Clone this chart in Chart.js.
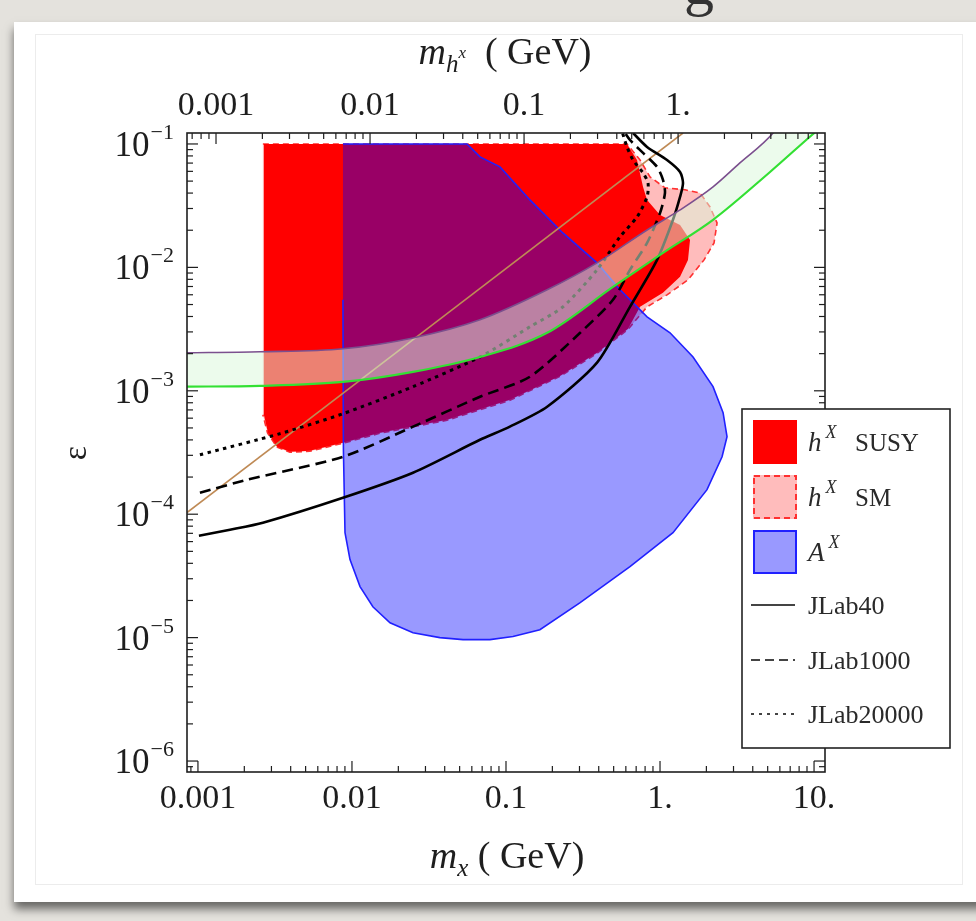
<!DOCTYPE html>
<html>
<head>
<meta charset="utf-8">
<script src="https://cdn.jsdelivr.net/npm/chart.js@4.4.0/dist/chart.umd.min.js"></script>
<style>
  html, body { margin: 0; padding: 0; }
  body { width: 976px; height: 921px; background: #e4e2dd; position: relative; overflow: hidden; font-family: "Liberation Serif", serif; }
  #cut { position: absolute; left: 684px; top: -46px; font-size: 60px; line-height: 60px; color: #333; }
  #card { position: absolute; left: 14px; top: 22px; width: 975px; height: 880px; background: #fff; box-shadow: 0 7px 9px rgba(0,0,0,0.55); }
  #inner { position: absolute; left: 35px; top: 34px; width: 928px; height: 851px; border: 1px solid #ececec; box-sizing: border-box; }
  canvas { position: absolute; left: 0; top: 0; }
</style>
</head>
<body>
<div id="cut">g</div>
<div id="card"></div>
<div id="inner"></div>
<canvas id="chart" width="976" height="921"></canvas>
<script>
// axis ranges (frame is padded a bit past the decades)
const xMin = 0.000849, xMax = 11.78;
const yMin = 8.15e-7, yMax = 0.1227;
const hShift = 1.31; // top axis: m_h = m_x / hShift

const xTicks = [0.001, 0.01, 0.1, 1, 10];
const xLabels = ['0.001', '0.01', '0.1', '1.', '10.'];
const topTicks = [0.001, 0.01, 0.1, 1];
const topLabels = ['0.001', '0.01', '0.1', '1.'];
const yTicks = [1e-1, 1e-2, 1e-3, 1e-4, 1e-5, 1e-6];
const yExps = ['\u22121', '\u22122', '\u22123', '\u22124', '\u22125', '\u22126'];

// h^X SUSY region
const susyX = [0.00268, 0.610, 0.709, 0.776, 0.824, 1.0, 1.349, 1.566, 1.519, 1.349, 1.045, 0.742, 0.620, 0.390, 0.224, 0.106, 0.0414, 0.0152, 0.00874, 0.00533, 0.00395, 0.00326, 0.00285, 0.00268];
const susyY = [0.1, 0.1, 0.0741, 0.0449, 0.0352, 0.0266, 0.0221, 0.0167, 0.0115, 0.00838, 0.00622, 0.00479, 0.00318, 0.00203, 0.00132, 0.000845, 0.000582, 0.000457, 0.000379, 0.000327, 0.000321, 0.000352, 0.000457, 0.00064];

// h^X SM region
const smX = [0.00264, 0.610, 0.742, 0.861, 1.077, 1.453, 1.819, 2.112, 2.346, 2.243, 1.931, 1.519, 1.11, 0.824, 0.620, 0.390, 0.224, 0.106, 0.0414, 0.0152, 0.00874, 0.00533, 0.00395, 0.00326, 0.00283, 0.00264];
const smY = [0.1, 0.1, 0.0741, 0.0541, 0.0441, 0.0425, 0.0401, 0.0309, 0.0229, 0.0158, 0.0115, 0.00792, 0.00599, 0.00479, 0.00315, 0.00201, 0.00131, 0.000838, 0.000577, 0.000453, 0.000376, 0.000324, 0.000318, 0.000349, 0.000455, 0.00064];

// A^X region
const aX = [0.00874, 0.0558, 0.0678, 0.0914, 0.143, 0.234, 0.390, 0.550, 0.824, 1.161, 1.638, 2.209, 2.567, 2.723, 2.528, 2.019, 1.214, 0.638, 0.303, 0.166, 0.111, 0.0787, 0.0526, 0.0372, 0.0249, 0.01766, 0.01367, 0.01128, 0.00971, 0.00901, 0.00880, 0.00874];
const aY = [0.1, 0.1, 0.0785, 0.0652, 0.0352, 0.0190, 0.01087, 0.00658, 0.00397, 0.00295, 0.00188, 0.00108, 0.000664, 0.000425, 0.000292, 0.000158, 0.0000708, 0.0000376, 0.0000192, 0.0000116, 0.0000102, 0.00000964, 0.00000964, 0.00001, 0.00001096, 0.0000132, 0.0000178, 0.0000259, 0.0000429, 0.0000708, 0.000333, 0.00546];

// band: upper (purple) and lower (green) edges
const bandUpX = [0.00080, 0.00253, 0.00874, 0.0249, 0.0678, 0.185, 0.390, 0.824, 1.349, 2.209, 3.30, 5.42, 11.79];
const bandUpY = [0.00203, 0.00207, 0.00219, 0.00268, 0.00376, 0.00658, 0.01087, 0.0201, 0.0292, 0.0449, 0.0702, 0.1227, 0.5];
const bandLoX = [0.00080, 0.00253, 0.00874, 0.0249, 0.0678, 0.185, 0.495, 1.045, 2.209, 5.18, 9.86, 11.79];
const bandLoY = [0.00108, 0.001096, 0.00118, 0.001425, 0.00188, 0.00295, 0.00695, 0.0131, 0.0243, 0.0593, 0.1205, 0.145];

// brown line
const brownX = [0.000849, 1.41];
const brownY = [0.000103, 0.1227];

// JLab reach curves
const jlab40X = [0.001015, 0.001614, 0.00264, 0.00874, 0.0249, 0.0678, 0.106, 0.185, 0.390, 0.638, 0.957, 1.214, 1.349, 1.41, 1.349, 1.11, 0.824, 0.668];
const jlab40Y = [0.000067, 0.0000748, 0.0000853, 0.000136, 0.000217, 0.000401, 0.000512, 0.000742, 0.00169, 0.00479, 0.0115, 0.0243, 0.0372, 0.0483, 0.0593, 0.0741, 0.0946, 0.1227];
const jlab1000X = [0.00103, 0.00208, 0.00874, 0.0249, 0.0678, 0.143, 0.303, 0.495, 0.638, 0.824, 1.0, 1.077, 1.045, 0.957, 0.776, 0.638, 0.593];
const jlab1000Y = [0.000149, 0.00019, 0.000292, 0.000512, 0.000894, 0.0013, 0.00295, 0.00546, 0.00955, 0.0158, 0.0276, 0.0401, 0.0512, 0.0652, 0.0846, 0.1077, 0.1227];
const jlab20000X = [0.00103, 0.0034, 0.00874, 0.0249, 0.0678, 0.143, 0.234, 0.390, 0.550, 0.709, 0.824, 0.836, 0.776, 0.668, 0.610, 0.571];
const jlab20000Y = [0.000303, 0.000449, 0.000652, 0.00108, 0.00188, 0.0033, 0.00479, 0.00955, 0.0177, 0.0256, 0.0372, 0.0483, 0.0582, 0.0741, 0.0946, 0.1227];

function pts(xs, ys) { return xs.map((x, i) => ({ x: x, y: ys[i] })); }

const SERIF = '"Liberation Serif", "Times New Roman", serif';
const INK = '#1e1e1e';

function region(label, xs, ys, fill, border, width, dash, order) {
  return {
    label: label, data: pts(xs, ys), showLine: true, pointRadius: 0, tension: 0,
    fill: 'shape', backgroundColor: fill, borderColor: border || 'rgba(0,0,0,0)',
    borderWidth: width, borderDash: dash || [], order: order
  };
}
function curve(label, xs, ys, color, width, dash, order) {
  return {
    label: label, data: pts(xs, ys), showLine: true, pointRadius: 0, tension: 0.25,
    fill: false, borderColor: color, borderWidth: width, borderDash: dash || [], order: order
  };
}

const dsSusy = region('h^X SUSY', susyX, susyY, '#ff0000', null, 0, null, 7);
const dsSm = region('h^X SM', smX, smY, '#ffbcbc', '#ff3030', 1.6, [6, 4], 8);
const dsA = region('A^X', aX, aY, 'rgba(0,0,255,0.4)', '#2020ff', 1.6, null, 6);
const dsJ40 = curve('JLab40', jlab40X, jlab40Y, '#000', 2.6, null, 4);
const dsJ1000 = curve('JLab1000', jlab1000X, jlab1000Y, '#000', 2.6, [11, 6], 4);
const dsJ20000 = curve('JLab20000', jlab20000X, jlab20000Y, '#000', 3, [3.5, 4.5], 4);
const dsBrown = curve('brown', brownX, brownY, '#bf8a55', 1.6, null, 5);
const dsLo = curve('band bottom', bandLoX, bandLoY, '#33e033', 2.2, null, 0);
dsLo.cubicInterpolationMode = 'monotone';
const dsUp = curve('band top', bandUpX, bandUpY, '#7b4f8e', 1.6, null, 1);
dsUp.cubicInterpolationMode = 'monotone';
dsUp.fill = '-1';
dsUp.backgroundColor = 'rgba(218,247,218,0.52)';

function logTicks(min, max) {
  const out = [];
  for (let e = Math.floor(Math.log10(min)); e <= Math.ceil(Math.log10(max)); e++) {
    for (let m = 1; m < 10; m++) {
      const v = m * Math.pow(10, e);
      if (v >= min && v <= max) out.push({ v: v, major: m === 1 });
    }
  }
  return out;
}

function seg(ctx, x1, y1, x2, y2) {
  ctx.beginPath(); ctx.moveTo(x1, y1); ctx.lineTo(x2, y2); ctx.stroke();
}

// frame with inward ticks
const framePlugin = {
  id: 'frame',
  afterDatasetsDraw(chart) {
    const { ctx, chartArea: a, scales } = chart;
    ctx.save();
    ctx.strokeStyle = INK;
    ctx.lineWidth = 1.2;
    logTicks(scales.x.min, scales.x.max).forEach(t => {
      const p = scales.x.getPixelForValue(t.v);
      seg(ctx, p, a.bottom, p, a.bottom - (t.major ? 11 : 6));
    });
    logTicks(scales.x2.min, scales.x2.max).forEach(t => {
      const p = scales.x2.getPixelForValue(t.v);
      seg(ctx, p, a.top, p, a.top + (t.major ? 11 : 6));
    });
    logTicks(scales.y.min, scales.y.max).forEach(t => {
      const p = scales.y.getPixelForValue(t.v);
      const len = t.major ? 11 : 6;
      seg(ctx, a.left, p, a.left + len, p);
      seg(ctx, a.right, p, a.right - len, p);
    });
    ctx.lineWidth = 1.6;
    ctx.strokeRect(a.left, a.top, a.right - a.left, a.bottom - a.top);
    ctx.restore();
  },
  afterDraw(chart) {
    const { ctx, chartArea: a, scales } = chart;
    ctx.save();
    ctx.fillStyle = INK;
    ctx.textBaseline = 'alphabetic';

    // y tick labels 10^-n
    yTicks.forEach((v, i) => {
      const p = scales.y.getPixelForValue(v);
      ctx.font = '22px ' + SERIF;
      const wExp = ctx.measureText(yExps[i]).width;
      const right = a.left - 13;
      ctx.textAlign = 'left';
      ctx.fillText(yExps[i], right - wExp, p - 5);
      ctx.font = '35px ' + SERIF;
      ctx.textAlign = 'right';
      ctx.fillText('10', right - wExp - 1, p + 12);
    });

    // axis titles
    drawParts(ctx, 507, 868, [
      { t: 'm', f: 'italic 38px', dy: 0 },
      { t: 'x', f: 'italic 25px', dy: 8 },
      { t: ' ( GeV)', f: '38px', dy: 0 }
    ]);
    drawParts(ctx, 505, 64, [
      { t: 'm', f: 'italic 38px', dy: 0 },
      { t: 'h', f: 'italic 25px', dy: 8 },
      { t: 'x', f: 'italic 17px', dy: -6 },
      { t: '  ( GeV)', f: '38px', dy: 0 }
    ]);
    ctx.save();
    ctx.translate(86, 453);
    ctx.rotate(-Math.PI / 2);
    ctx.font = '34px ' + SERIF;
    ctx.textAlign = 'center';
    ctx.fillText('\u03b5', 0, 0);
    ctx.restore();

    drawLegend(ctx);
    ctx.restore();
  }
};

function drawParts(ctx, cx, base, parts) {
  let w = 0;
  parts.forEach(p => { ctx.font = p.f + ' ' + SERIF; p.w = ctx.measureText(p.t).width; w += p.w; });
  let x = cx - w / 2;
  ctx.textAlign = 'left';
  parts.forEach(p => { ctx.font = p.f + ' ' + SERIF; ctx.fillText(p.t, x, base + p.dy); x += p.w; });
}

function drawLegend(ctx) {
  const L = 742, T = 409, R = 950, B = 748;
  ctx.save();
  ctx.fillStyle = '#fff';
  ctx.fillRect(L, T, R - L, B - T);
  ctx.strokeStyle = '#222';
  ctx.lineWidth = 1.6;
  ctx.strokeRect(L, T, R - L, B - T);

  const boxes = [
    { ds: dsSusy, y: 442, name: 'h', rest: 'SUSY' },
    { ds: dsSm, y: 497, name: 'h', rest: 'SM' },
    { ds: dsA, y: 552, name: 'A', rest: '' }
  ];
  boxes.forEach(b => {
    ctx.fillStyle = b.ds.backgroundColor;
    ctx.fillRect(753, b.y - 22, 44, 44);
    if (b.ds.borderWidth > 0) {
      ctx.strokeStyle = b.ds.borderColor;
      ctx.lineWidth = 2;
      ctx.setLineDash(b.ds.borderDash);
      ctx.strokeRect(754, b.y - 21, 42, 42);
      ctx.setLineDash([]);
    }
    ctx.fillStyle = '#2a2a2a';
    ctx.textAlign = 'left';
    ctx.font = 'italic 27px ' + SERIF;
    ctx.fillText(b.name, 808, b.y + 9);
    const w = ctx.measureText(b.name).width;
    ctx.font = 'italic 18px ' + SERIF;
    ctx.fillText('X', 808 + w + 4, b.y - 4);
    ctx.font = '25px ' + SERIF;
    ctx.fillText(b.rest, 855, b.y + 9);
  });

  const lines = [
    { ds: dsJ40, y: 605, dash: [] },
    { ds: dsJ1000, y: 660, dash: [9, 5] },
    { ds: dsJ20000, y: 714, dash: [3, 5] }
  ];
  lines.forEach(l => {
    ctx.strokeStyle = '#444';
    ctx.lineWidth = 2.2;
    ctx.setLineDash(l.dash);
    seg(ctx, 751, l.y, 795, l.y);
    ctx.setLineDash([]);
    ctx.fillStyle = '#2a2a2a';
    ctx.font = '26px ' + SERIF;
    ctx.textAlign = 'left';
    ctx.fillText(l.ds.label, 808, l.y + 9);
  });
  ctx.restore();
}

const tickFont = { family: SERIF, size: 34 };

new Chart(document.getElementById('chart'), {
  type: 'scatter',
  data: {
    datasets: [dsLo, dsUp, dsBrown, dsJ40, dsJ1000, dsJ20000, dsA, dsSusy, dsSm]
  },
  options: {
    responsive: false,
    devicePixelRatio: 1,
    animation: false,
    events: [],
    layout: { padding: { left: 0, right: 151, top: 0, bottom: 0 } },
    plugins: { legend: { display: false }, tooltip: { enabled: false } },
    scales: {
      x: {
        type: 'logarithmic', position: 'bottom', min: xMin, max: xMax, bounds: 'data',
        grid: { display: false, drawTicks: false }, border: { display: false },
        afterBuildTicks: s => { s.ticks = xTicks.map(v => ({ value: v, major: true })); },
        afterFit: s => { s.height = 149; },
        ticks: {
          autoSkip: false, maxRotation: 0, minRotation: 0, padding: 7,
          color: INK, font: tickFont,
          callback: v => xLabels[xTicks.indexOf(v)]
        }
      },
      x2: {
        type: 'logarithmic', position: 'top', min: xMin / hShift, max: xMax / hShift, bounds: 'data',
        grid: { display: false, drawTicks: false }, border: { display: false },
        afterBuildTicks: s => { s.ticks = topTicks.map(v => ({ value: v, major: true })); },
        afterFit: s => { s.height = 133; },
        ticks: {
          autoSkip: false, maxRotation: 0, minRotation: 0, padding: 7,
          color: INK, font: tickFont,
          callback: v => topLabels[topTicks.indexOf(v)]
        }
      },
      y: {
        type: 'logarithmic', position: 'left', min: yMin, max: yMax, bounds: 'data',
        grid: { display: false, drawTicks: false }, border: { display: false },
        afterFit: s => { s.width = 187; },
        ticks: { display: false }
      }
    }
  },
  plugins: [framePlugin]
});
</script>
</body>
</html>
